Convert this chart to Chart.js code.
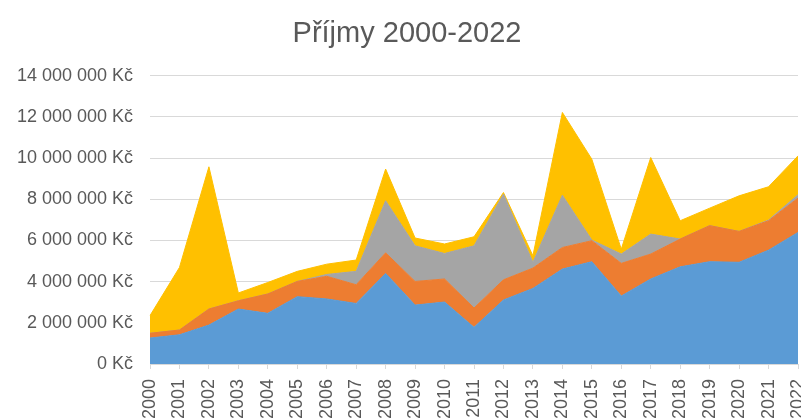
<!DOCTYPE html>
<html><head><meta charset="utf-8">
<script src="https://cdn.jsdelivr.net/npm/chart.js@4"></script>
<style>html,body{margin:0;padding:0;overflow:hidden;background:#fff}</style>
</head><body>
<canvas id="c" width="801" height="418"></canvas>
<script>
const years = ["2000","2001","2002","2003","2004","2005","2006","2007","2008","2009","2010","2011","2012","2013","2014","2015","2016","2017","2018","2019","2020","2021","2022"];
const seriesBlue   = [1260000,1420000,1890000,2670000,2460000,3270000,3160000,2940000,4400000,2860000,3010000,1780000,3110000,3670000,4610000,4970000,3300000,4130000,4720000,4970000,4940000,5530000,6390000];
const seriesOrange = [230000,230000,780000,400000,940000,740000,1100000,910000,1000000,1150000,1120000,940000,980000,990000,1050000,1020000,1590000,1210000,1350000,1750000,1500000,1430000,1670000];
const seriesGray   = [0,0,0,0,0,0,90000,650000,2530000,1730000,1240000,3020000,4160000,280000,2540000,30000,450000,970000,0,0,0,30000,160000];
const seriesYellow = [860000,3040000,6910000,380000,560000,490000,500000,550000,1540000,380000,460000,440000,80000,320000,4020000,3930000,240000,3720000,890000,850000,1730000,1620000,1890000];
const yTicks = [0,2000000,4000000,6000000,8000000,10000000,12000000,14000000];

function fmt(v){ return String(v).replace(/\B(?=(\d{3})+(?!\d))/g,' ') + ' Kč'; }
const txt = '#595959';
const mk = (label, data, color, fill) => ({label, data, backgroundColor: color, borderColor: color, borderWidth: 1, fill, pointRadius: 0, tension: 0});

new Chart(document.getElementById('c'), {
  type: 'line',
  data: { labels: years, datasets: [
    mk('Blue', seriesBlue, '#5B9BD5', 'origin'),
    mk('Orange', seriesOrange, '#ED7D31', '-1'),
    mk('Gray', seriesGray, '#A5A5A5', '-1'),
    mk('Yellow', seriesYellow, '#FFC000', '-1')
  ]},
  options: {
    responsive: false, animation: false,
    layout: { padding: { left: 16, right: 3, top: 0, bottom: 0 } },
    plugins: {
      legend: { display: false },
      tooltip: { enabled: false },
      title: { display: true, text: 'Příjmy 2000-2022', color: txt,
        font: { family: 'Liberation Sans', size: 29, weight: 'normal' },
        padding: { top: 17, bottom: 24 } }
    },
    scales: {
      x: {
        stacked: true, offset: false,
        grid: { display: true, drawOnChartArea: false, drawTicks: true, tickLength: 5, color: '#d9d9d9' },
        border: { display: true, color: '#d9d9d9' },
        ticks: { autoSkip: false, maxRotation: 90, minRotation: 90, color: txt, padding: 10,
          font: { family: 'Liberation Sans', size: 18 } },
        afterFit: s => { s.paddingLeft = 0; s.paddingRight = 0; s.height = 54; }
      },
      y: {
        stacked: true, min: 0, max: 14000000,
        afterBuildTicks: s => { s.ticks = yTicks.map(v => ({value: v})); },
        grid: { color: '#d9d9d9', drawTicks: false },
        border: { display: false },
        ticks: { color: txt, padding: 17, callback: v => fmt(v),
          font: { family: 'Liberation Sans', size: 18 } },
        afterFit: s => { s.width = 134; }
      }
    }
  }
});
</script>
</body></html>
